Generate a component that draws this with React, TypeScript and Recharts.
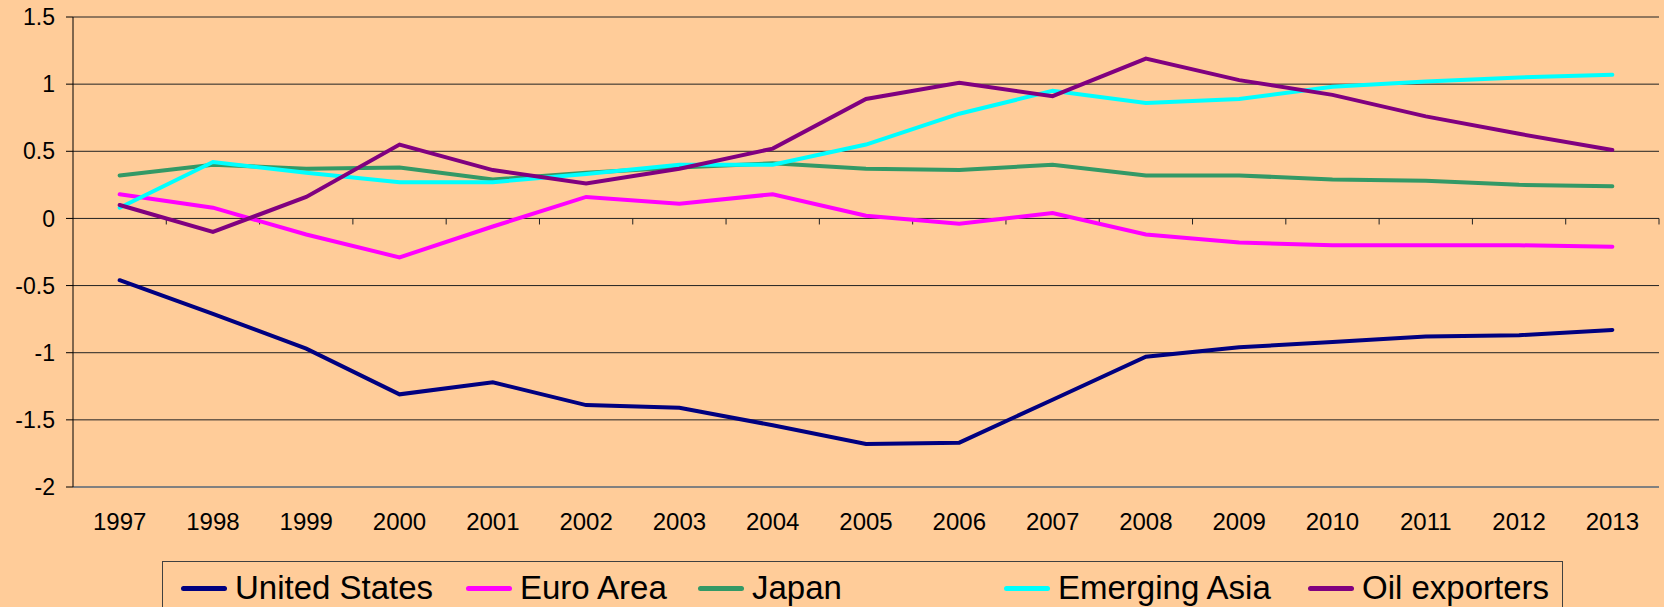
import React from 'react';
import { LineChart, Line, XAxis, YAxis, CartesianGrid, Legend, ReferenceLine } from 'recharts';

const years = ['1997','1998','1999','2000','2001','2002','2003','2004','2005','2006','2007','2008','2009','2010','2011','2012','2013'];
const unitedStates = [-0.46,-0.71,-0.97,-1.31,-1.22,-1.39,-1.41,-1.54,-1.68,-1.67,-1.35,-1.03,-0.96,-0.92,-0.88,-0.87,-0.83];
const euroArea = [0.18,0.08,-0.12,-0.29,-0.06,0.16,0.11,0.18,0.02,-0.04,0.04,-0.12,-0.18,-0.2,-0.2,-0.2,-0.21];
const japan = [0.32,0.40,0.37,0.38,0.29,0.34,0.38,0.41,0.37,0.36,0.40,0.32,0.32,0.29,0.28,0.25,0.24];
const emergingAsia = [0.08,0.42,0.34,0.27,0.27,0.33,0.40,0.40,0.55,0.78,0.95,0.86,0.89,0.98,1.02,1.05,1.07];
const oilExporters = [0.10,-0.10,0.16,0.55,0.36,0.26,0.37,0.52,0.89,1.01,0.91,1.19,1.03,0.92,0.76,0.63,0.51];
const yTicks = [-2,-1.5,-1,-0.5,0,0.5,1,1.5];

const seriesList = [
  { key: 'us', name: 'United States', values: unitedStates, color: '#000080' },
  { key: 'euro', name: 'Euro Area', values: euroArea, color: '#FF00FF' },
  { key: 'japan', name: 'Japan', values: japan, color: '#339966' },
  { key: 'asia', name: 'Emerging Asia', values: emergingAsia, color: '#00FFFF' },
  { key: 'oil', name: 'Oil exporters', values: oilExporters, color: '#800080' },
];

const data = years.map((y, i) => {
  const row: any = { year: y };
  seriesList.forEach(s => { row[s.key] = s.values[i]; });
  return row;
});

const FONT = '"Liberation Sans", Arial, sans-serif';
const legendLefts = [18, 303, 535, 841, 1145];

const LegendContent = () => (
  <div style={{ position: 'relative', width: 1401, height: 60, border: '1px solid #404040', boxSizing: 'border-box' }}>
    {seriesList.map((s, i) => (
      <div key={s.key} style={{ position: 'absolute', left: legendLefts[i], top: 6, height: 40, display: 'flex', alignItems: 'center', whiteSpace: 'nowrap' }}>
        <div style={{ width: 46, height: 5, borderRadius: 3, background: s.color, marginRight: 8 }} />
        <span style={{ fontFamily: FONT, fontSize: 33, color: '#000', lineHeight: '40px' }}>{s.name}</span>
      </div>
    ))}
  </div>
);

export default function App() {
  return (
    <div style={{ position: 'absolute', left: 0, top: 0, width: 1664, height: 607, background: '#FFCC99', overflow: 'hidden' }}>
      <LineChart width={1664} height={607} data={data} margin={{ top: 17, right: 5, left: 0, bottom: 0 }}>
        <CartesianGrid horizontal vertical={false} stroke="#222" strokeWidth={1} />
        <XAxis
          dataKey="year"
          scale="band"
          height={120}
          axisLine={{ stroke: '#808080', strokeWidth: 2 }}
          tickLine={false}
          tickSize={0}
          tickMargin={26}
          interval={0}
          tick={{ fill: '#000', fontSize: 24, fontFamily: FONT }}
        />
        <XAxis xAxisId="top" dataKey="year" scale="band" orientation="top" height={0} tick={false} tickLine={false} axisLine={{ stroke: '#808080', strokeWidth: 2 }} />
        <YAxis
          domain={[-2, 1.5]}
          ticks={yTicks}
          width={73}
          interval={0}
          axisLine={{ stroke: '#000', strokeWidth: 1 }}
          tickLine={{ stroke: '#000' }}
          tickSize={7}
          tickMargin={11}
          tick={{ fill: '#000', fontSize: 23, fontFamily: FONT }}
        />
        <YAxis yAxisId="right" orientation="right" width={0} domain={[-2, 1.5]} tick={false} tickLine={false} axisLine={{ stroke: '#808080', strokeWidth: 2 }} />
        {years.map(y => (
          <ReferenceLine key={'t' + y} segment={[{ x: y, y: 0 }, { x: y, y: -0.045 }]} position="end" stroke="#222" strokeWidth={1} ifOverflow="visible" />
        ))}
        {seriesList.map(s => (
          <Line key={s.key} type="linear" dataKey={s.key} name={s.name} stroke={s.color} strokeWidth={4} dot={false} activeDot={false} isAnimationActive={false} strokeLinecap="round" />
        ))}
        <Legend layout="horizontal" verticalAlign="middle" align="center" content={<LegendContent />} wrapperStyle={{ position: 'absolute', left: 162, top: 561, width: 1401, height: 60 }} />
      </LineChart>
    </div>
  );
}
